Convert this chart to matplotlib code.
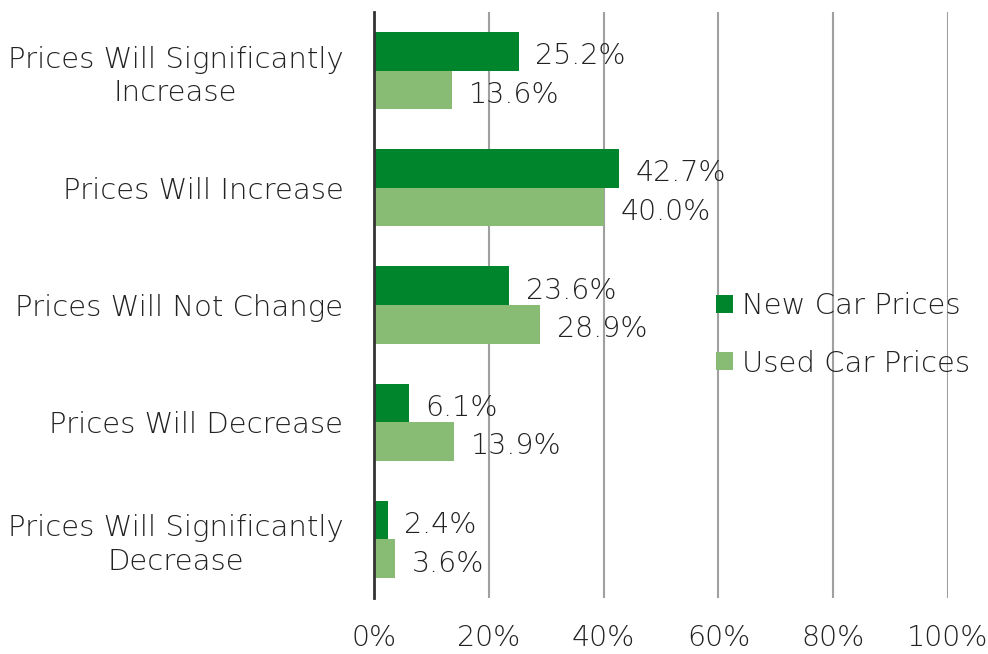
import matplotlib.pyplot as plt
import numpy as np

# data
categories = ['Prices Will Significantly\nIncrease', 'Prices Will Increase',
              'Prices Will Not Change', 'Prices Will Decrease',
              'Prices Will Significantly\nDecrease']
new_car = [25.2, 42.7, 23.6, 6.1, 2.4]
used_car = [13.6, 40.0, 28.9, 13.9, 3.6]
xticks = [0, 20, 40, 60, 80, 100]

dark_green = '#00842c'
light_green = '#88bb74'
text_color = '#222222'
fs = 20.5
fs_big = 21

plt.rcParams['font.family'] = ['DejaVu Sans']
plt.rcParams['font.weight'] = 'light'

fig = plt.figure(figsize=(9.88, 6.54), dpi=100)
ax = fig.add_axes([374/988, 1 - 598/654, (948 - 374)/988, (598 - 12)/654])

y = np.arange(len(categories))
h = 0.33
b1 = ax.barh(y - h/2, new_car, height=h, color=dark_green, label='New Car Prices', zorder=3)
b2 = ax.barh(y + h/2, used_car, height=h, color=light_green, label='Used Car Prices', zorder=3)

# value labels
for bars, vals in [(b1, new_car), (b2, used_car)]:
    for rect, v in zip(bars, vals):
        ax.annotate(f'{v:.1f}%', (v, rect.get_y() + rect.get_height()/2),
                    xytext=(12, -3.5), textcoords='offset points',
                    ha='left', va='center', fontsize=fs, color=text_color, zorder=4)

ax.set_xlim(0, 100)
ax.set_ylim(len(categories) - 0.5, -0.5)
ax.set_yticks(y)
ax.set_yticklabels(categories, fontsize=fs_big, color=text_color, linespacing=1.25)
for lab in ax.get_yticklabels():
    lab.set_multialignment('center')
ax.set_xticks(xticks)
ax.set_xticklabels([f'{t}%' for t in xticks], fontsize=fs, color=text_color)
ax.tick_params(axis='y', length=0, pad=22)
ax.tick_params(axis='x', length=0, pad=19)

ax.grid(axis='x', color='#a0a0a0', linewidth=1.5, zorder=0)
for s in ['top', 'right', 'bottom']:
    ax.spines[s].set_visible(False)
ax.spines['left'].set_color('#333333')
ax.spines['left'].set_linewidth(2)
ax.spines['left'].set_zorder(5)

leg = fig.legend(loc='center left', bbox_to_anchor=(716/988, 1 - 335/654),
                 frameon=False, fontsize=fs_big, handlelength=0.58, handleheight=0.58,
                 handletextpad=0.3, labelspacing=1.0, borderpad=0, borderaxespad=0)
for t in leg.get_texts():
    t.set_color(text_color)

fig.savefig('out.png', dpi=100)
